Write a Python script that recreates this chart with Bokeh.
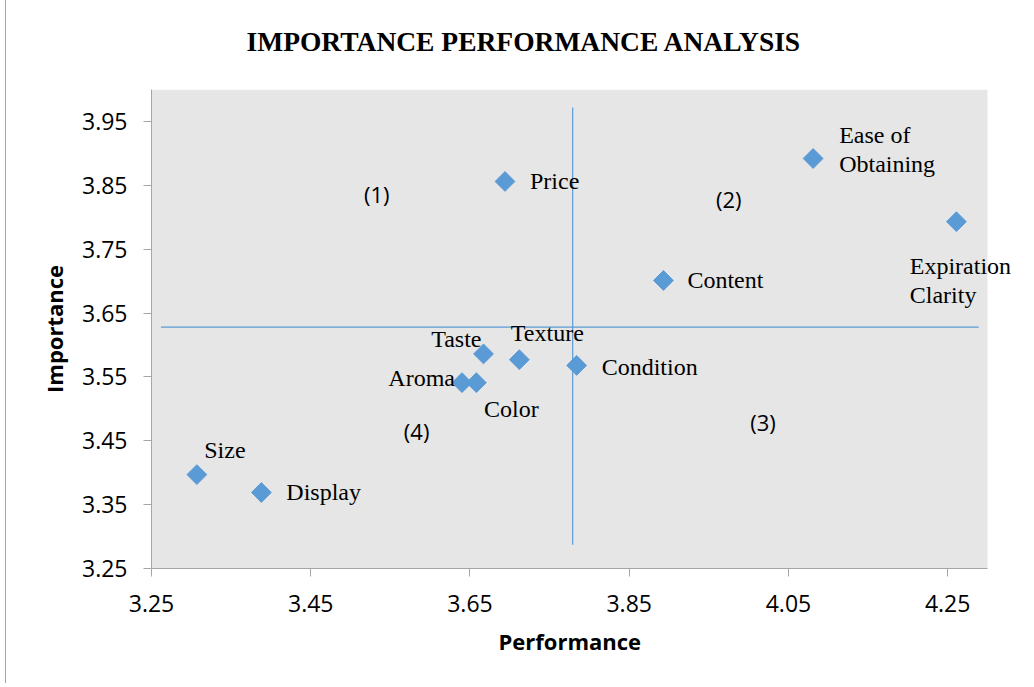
import numpy as np
from bokeh.plotting import figure
from bokeh.models import (ColumnDataSource, LabelSet, FixedTicker, Range1d,
                          PrintfTickFormatter, BoxAnnotation, Title)
from bokeh.core.properties import value
from bokeh.embed import file_html
from bokeh.resources import INLINE

# ---------------- data ----------------
attributes = ["Size", "Display", "Aroma", "Color", "Taste", "Texture", "Condition",
              "Price", "Content", "Ease of\nObtaining", "Expiration\nClarity"]
performance = [3.307, 3.388, 3.640, 3.658, 3.667, 3.712, 3.784, 3.694, 3.893, 4.081, 4.261]
importance = [3.397, 3.369, 3.541, 3.541, 3.586, 3.577, 3.568, 3.856, 3.701, 3.892, 3.793]

performance_ref = 3.779          # vertical divider
importance_ref = 3.628           # horizontal divider
vline_span = [3.287, 3.972]      # importance extent of the vertical divider
hline_span = [3.262, 4.289]      # performance extent of the horizontal divider

quadrant_labels = ["(1)", "(2)", "(3)", "(4)"]
quadrant_x = [3.533, 3.975, 4.018, 3.583]
quadrant_y = [3.837, 3.828, 3.480, 3.466]

x_min, x_max = 3.25, 4.30        # performance axis extent
y_min, y_max = 3.25, 4.00        # importance axis extent
x_ticks = [3.25, 3.45, 3.65, 3.85, 4.05, 4.25]
y_ticks = [3.25, 3.35, 3.45, 3.55, 3.65, 3.75, 3.85, 3.95]

title_text = "IMPORTANCE PERFORMANCE ANALYSIS"
x_title = "Performance"
y_title = "Importance"

# ---------------- label styling (pixel offsets) ----------------
lab_dx = [28, 25, -7, 35, -2, 28, 25, 25, 24, 74, 4]
lab_dy = [25, 0, 5, -26, 15, 27, -2, 0, 0, 9, -59]
lab_align = ["center", "left", "right", "center", "right", "center", "left",
             "left", "left", "center", "center"]

BLUE = "#5b9bd5"
AXIS_GREY = "#a6a6a6"
AREA_GREY = "#e6e6e6"

# frame extends a little past the grey plot area so the outer labels are not clipped
label_room = 0.049

p = figure(width=1022, height=693, output_backend="svg", toolbar_location=None,
           x_range=Range1d(x_min, x_max + label_room), y_range=Range1d(y_min, y_max),
           min_border_left=145, min_border_right=2, min_border_top=82,
           min_border_bottom=115)
p.margin = (-10, 0, 0, 5)
p.styles = {"border-left": "1px solid #a6a6a6"}

p.background_fill_color = "white"
p.border_fill_color = "white"
p.outline_line_color = None
p.xgrid.grid_line_color = None
p.ygrid.grid_line_color = None

p.add_layout(BoxAnnotation(left=x_min, right=x_max, fill_color=AREA_GREY, fill_alpha=1,
                           line_color=None, level="underlay"))

# dividers
p.segment(x0=[performance_ref], y0=[vline_span[0]], x1=[performance_ref], y1=[vline_span[1]],
          line_color=BLUE, line_width=1.2)
p.segment(x0=[hline_span[0]], y0=[importance_ref], x1=[hline_span[1]], y1=[importance_ref],
          line_color=BLUE, line_width=1.2)

src = ColumnDataSource(dict(x=performance, y=importance, name=attributes,
                            dx=lab_dx, dy=lab_dy, align=lab_align))
p.scatter("x", "y", source=src, marker="square", angle=np.pi / 4, size=14,
          fill_color=BLUE, line_color=BLUE)

labels = LabelSet(x="x", y="y", text="name", source=src, x_offset="dx", y_offset="dy",
                  text_align="align", text_baseline="middle",
                  text_font=value("Liberation Serif"), text_font_size="24px",
                  text_color="black", text_line_height=1.1)
p.add_layout(labels)

qsrc = ColumnDataSource(dict(x=quadrant_x, y=quadrant_y, t=quadrant_labels))
p.add_layout(LabelSet(x="x", y="y", text="t", source=qsrc, text_align="center",
                      text_baseline="middle", text_font=value("Open Sans"),
                      text_font_size="22px", text_color="black"))

p.title.text = title_text
p.title.align = "left"
p.title.offset = 95
p.title.text_font = "Liberation Serif"
p.title.text_font_size = "27.5px"
p.title.text_font_style = "bold"
p.title.text_color = "black"
p.title.standoff = 66

for ax in (p.xaxis[0], p.yaxis[0]):
    ax.axis_line_color = AXIS_GREY
    ax.major_tick_line_color = AXIS_GREY
    ax.major_tick_out = 8
    ax.major_tick_in = 0
    ax.minor_tick_line_color = None
    ax.major_label_text_font = "Open Sans"
    ax.major_label_text_font_size = "23px"
    ax.major_label_text_color = "black"
    ax.axis_label_text_font = "Open Sans"
    ax.axis_label_text_font_size = "22px"
    ax.axis_label_text_font_style = "bold"
    ax.axis_label_text_color = "black"
    ax.formatter = PrintfTickFormatter(format="%.2f")

p.xaxis.bounds = (x_min, x_max)
p.xaxis.ticker = FixedTicker(ticks=x_ticks)
p.yaxis.ticker = FixedTicker(ticks=y_ticks)
p.yaxis.axis_label = y_title
p.xaxis.major_label_standoff = 18
p.yaxis.major_label_standoff = 16
p.yaxis.axis_label_standoff = 10

# x-axis title placed below the axis, aligned with the grey plot area
p.add_layout(Title(text=x_title, align="left", offset=347, standoff=18,
                   text_font="Open Sans", text_font_size="22px",
                   text_font_style="bold", text_color="black"), "below")

open("out.html", "w").write(file_html(p, INLINE))
